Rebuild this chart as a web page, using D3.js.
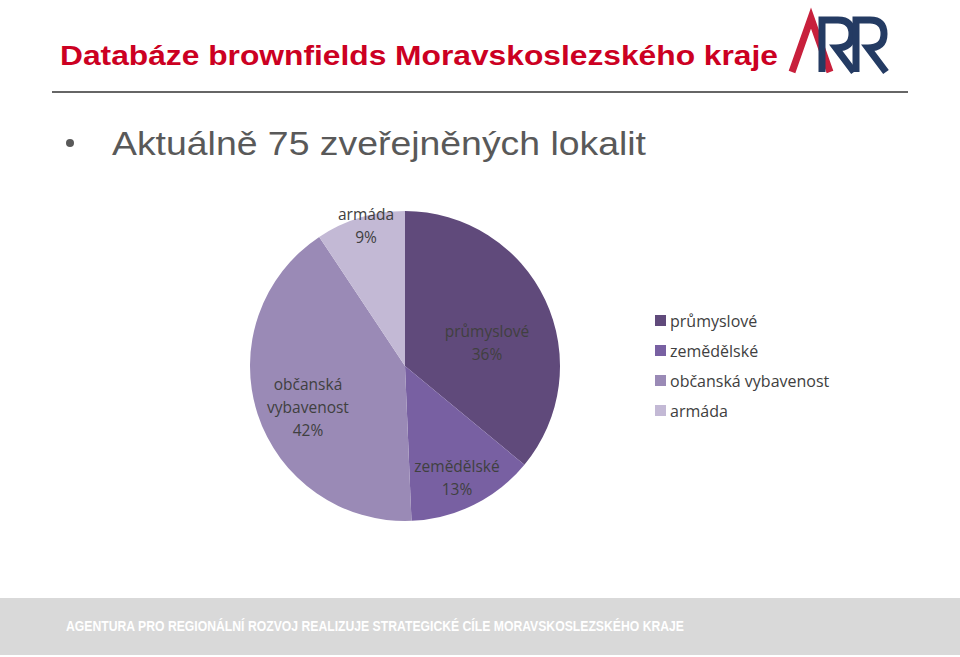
<!DOCTYPE html><html><head><meta charset="utf-8"><script src="https://cdn.jsdelivr.net/npm/d3@7"></script>
<style>body{margin:0;background:#fff}</style></head><body><svg id="c" width="960" height="657"></svg>
<script>
const categories=["průmyslové","zemědělské","občanská vybavenost","armáda"];
const values=[27,10,31,7];
const pctLabels=["36%","13%","42%","9%"];
const colors=["#604a7b","#7860a2","#9a8ab6","#c3b9d5"];
const svg=d3.select("#c");
svg.append("text").attr("x",60).attr("y",65).attr("font-family","Liberation Sans").attr("font-weight","bold").attr("font-size",28).attr("fill","#cc0022").attr("textLength",718).attr("lengthAdjust","spacingAndGlyphs").text("Databáze brownfields Moravskoslezského kraje");
svg.append("line").attr("x1",52).attr("x2",908).attr("y1",92).attr("y2",92).attr("stroke","#333").attr("stroke-width",1.5);
const lg=svg.append("g").attr("fill","none").attr("stroke-width",7);
lg.append("path").attr("d","M792,72 L811,18 L830,72").attr("stroke","#c8203c");
lg.append("path").attr("d","M822,72 L822,20 L838,20 Q852,20 852,34 Q852,48 836,48 L854,72").attr("stroke","#243b63");
lg.append("path").attr("d","M856,72 L856,20 L870,20 Q884,20 884,34 Q884,48 868,48 L886,72").attr("stroke","#243b63");
svg.append("circle").attr("cx",70).attr("cy",143).attr("r",4).attr("fill","#595959");
svg.append("text").attr("x",112).attr("y",155).attr("font-family","Liberation Sans").attr("font-size",34).attr("fill","#595959").attr("textLength",534).attr("lengthAdjust","spacingAndGlyphs").text("Aktuálně 75 zveřejněných lokalit");
const cx=405,cy=366,R=155;
const pie=d3.pie().sort(null)(values);
const arc=d3.arc().innerRadius(0).outerRadius(R);
const g=svg.append("g").attr("transform",`translate(${cx},${cy})`);
g.selectAll("path").data(pie).join("path").attr("d",arc).attr("fill",(d,i)=>colors[i]);
const labelPos=[[487,337],[457,472],[308,390],[366,220]];
const labelLines=[[categories[0],pctLabels[0]],[categories[1],pctLabels[1]],["občanská","vybavenost",pctLabels[2]],[categories[3],pctLabels[3]]];
labelLines.forEach((ls,i)=>{
 const t=svg.append("text").attr("text-anchor","middle").attr("font-family","Open Sans").attr("font-size",15.5).attr("fill","#404040");
 ls.forEach((s,j)=>t.append("tspan").attr("x",labelPos[i][0]).attr("y",labelPos[i][1]+j*23).text(s));
});
categories.forEach((c,i)=>{
 svg.append("rect").attr("x",655).attr("y",315+i*30).attr("width",11).attr("height",11).attr("fill",colors[i]);
 svg.append("text").attr("x",670).attr("y",327+i*30).attr("font-family","Open Sans").attr("font-size",16).attr("fill","#404040").text(c);
});
svg.append("rect").attr("x",0).attr("y",598).attr("width",960).attr("height",57).attr("fill","#d9d9d9");
svg.append("text").attr("x",66).attr("y",631).attr("font-family","Liberation Sans").attr("font-weight","bold").attr("font-size",14).attr("fill","#fff").attr("textLength",618).attr("lengthAdjust","spacingAndGlyphs").text("AGENTURA PRO REGIONÁLNÍ ROZVOJ REALIZUJE STRATEGICKÉ CÍLE MORAVSKOSLEZSKÉHO KRAJE");
</script></body></html>
